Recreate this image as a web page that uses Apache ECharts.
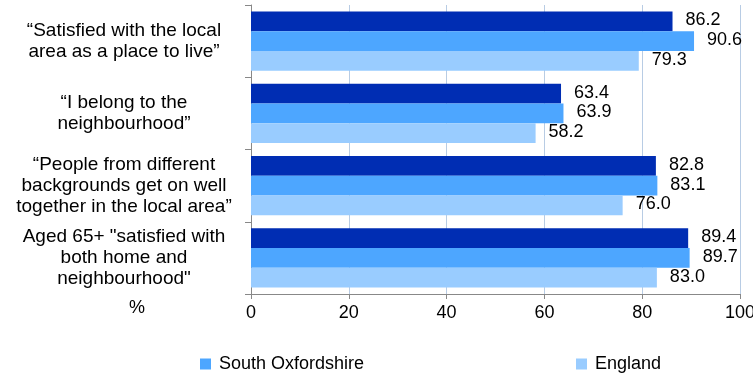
<!DOCTYPE html>
<html><head><meta charset="utf-8">
<script src="https://cdn.jsdelivr.net/npm/echarts@6/dist/echarts.min.js"></script>
<style>html,body{margin:0;padding:0;background:#fff}#c{width:753px;height:374px}</style>
</head><body><div id="c"></div>
<script>
var categories = [
  '\u201cSatisfied with the local\narea as a place to live\u201d',
  '\u201cI belong to the\nneighbourhood\u201d',
  '\u201cPeople from different\nbackgrounds get on well\ntogether in the local area\u201d',
  'Aged 65+ "satisfied with\nboth home and\nneighbourhood"'
];
var seriesNames = ['Series 1', 'South Oxfordshire', 'England'];
var series1 = [86.2, 63.4, 82.8, 89.4];
var southOxfordshire = [90.6, 63.9, 83.1, 89.7];
var england = [79.3, 58.2, 76.0, 83.0];
var xTicks = [0, 20, 40, 60, 80, 100];
var colors = ['#002db3', '#4da6ff', '#99ccff'];

var font = 'Liberation Sans, Arial, sans-serif';
function mk(name, data, color) {
  return {
    name: name, type: 'bar', data: data, barGap: '0%', barCategoryGap: '18%',
    itemStyle: {color: color},
    label: {show: true, position: 'right', distance: 13, offset: [0, -1],
      color: '#000', fontSize: 18, fontFamily: font,
      formatter: function (p) { return p.value.toFixed(1); }}
  };
}
var legendText = {fontSize: 18, fontFamily: font, color: '#000', padding: [0, 0, 0, 3]};
var chart = echarts.init(document.getElementById('c'), null, {renderer: 'canvas'});
chart.setOption({
  animation: false,
  grid: {left: 251, right: 13, top: 5, bottom: 80, containLabel: false, outerBoundsMode: 'none'},
  legend: [
    {data: [seriesNames[1]], left: 200, top: 355, padding: 0, itemWidth: 11, itemHeight: 11, icon: 'rect', textStyle: legendText},
    {data: [seriesNames[2]], left: 576, top: 355, padding: 0, itemWidth: 11, itemHeight: 11, icon: 'rect', textStyle: legendText}
  ],
  xAxis: {
    type: 'value', min: 0, max: 100, interval: 20,
    axisLine: {show: true, lineStyle: {color: '#888'}},
    axisTick: {show: true, length: 5, lineStyle: {color: '#888'}},
    axisLabel: {fontSize: 18, fontFamily: font, color: '#000', margin: 10,
      formatter: function (v) { return xTicks.indexOf(v) >= 0 ? String(v) : ''; }},
    splitLine: {show: true, lineStyle: {color: '#b8cce4', width: 1}}
  },
  yAxis: {
    type: 'category', data: categories, inverse: true,
    axisLine: {show: true, lineStyle: {color: '#888'}},
    axisTick: {show: true, length: 6, lineStyle: {color: '#888'}},
    axisLabel: {fontSize: 19, fontFamily: font, color: '#000', align: 'center',
      margin: 127, lineHeight: 21}
  },
  graphic: [{type: 'text', left: 129, top: 299,
    style: {text: '%', font: '18px Liberation Sans, Arial, sans-serif', fill: '#000'}}],
  series: [
    mk(seriesNames[0], series1, colors[0]),
    mk(seriesNames[1], southOxfordshire, colors[1]),
    mk(seriesNames[2], england, colors[2])
  ]
});
</script></body></html>
